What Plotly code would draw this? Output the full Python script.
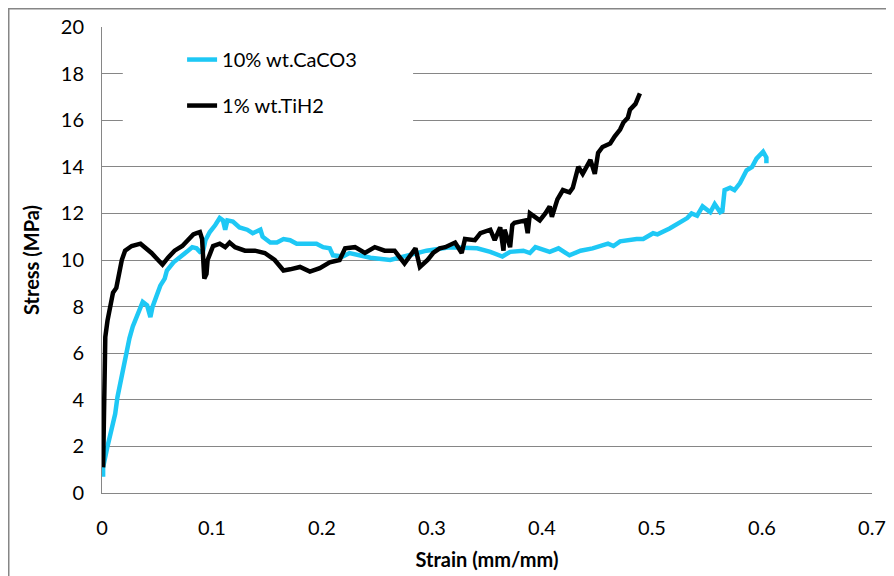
import plotly.graph_objects as go

# 1% wt.TiH2
tih2_strain = [0.001, 0.002, 0.003, 0.005, 0.007, 0.010, 0.013, 0.016, 0.018, 0.021, 0.027, 0.035,
               0.039, 0.045, 0.051, 0.055, 0.060, 0.066, 0.073, 0.078, 0.083, 0.086, 0.089, 0.091,
               0.092, 0.093, 0.095, 0.096, 0.101, 0.107, 0.112, 0.116, 0.121, 0.130, 0.139, 0.148,
               0.157, 0.165, 0.171, 0.180, 0.189, 0.198, 0.207, 0.216, 0.221, 0.230, 0.239, 0.248,
               0.257, 0.266, 0.275, 0.285, 0.289, 0.296, 0.301, 0.307, 0.312, 0.321, 0.327, 0.330,
               0.339, 0.344, 0.353, 0.357, 0.362, 0.365, 0.366, 0.371, 0.373, 0.375, 0.385, 0.387,
               0.389, 0.394, 0.398, 0.403, 0.407, 0.409, 0.414, 0.419, 0.425, 0.428, 0.433, 0.437,
               0.444, 0.448, 0.451, 0.455, 0.462, 0.466, 0.471, 0.474, 0.478, 0.480, 0.485, 0.489]
tih2_stress = [1.1, 5.0, 6.7, 7.4, 8.0, 8.6, 8.8, 9.5, 10.0, 10.4, 10.6, 10.7,
               10.55, 10.3, 10.0, 9.8, 10.1, 10.4, 10.6, 10.85, 11.1, 11.15, 11.2, 10.9,
               10.0, 9.2, 9.4, 10.0, 10.6, 10.7, 10.55, 10.75, 10.55, 10.4, 10.4, 10.3,
               10.0, 9.55, 9.6, 9.7, 9.5, 9.65, 9.9, 10.0, 10.5, 10.55, 10.3, 10.55,
               10.4, 10.4, 9.85, 10.5, 9.7, 10.0, 10.3, 10.5, 10.55, 10.75, 10.3, 10.9,
               10.85, 11.15, 11.3, 10.85, 11.4, 10.4, 11.3, 10.55, 11.5, 11.6, 11.7, 11.15,
               12.0, 11.85, 11.7, 12.0, 12.3, 11.85, 12.6, 13.0, 12.9, 13.1, 14.0, 13.7,
               14.3, 13.7, 14.6, 14.85, 15.0, 15.3, 15.6, 15.9, 16.1, 16.45, 16.7, 17.15]

# 10% wt.CaCO3
caco3_strain = [0.001, 0.001, 0.005, 0.009, 0.012, 0.014, 0.016, 0.019, 0.021, 0.024, 0.025, 0.028,
                0.033, 0.037, 0.041, 0.044, 0.046, 0.050, 0.053, 0.057, 0.059, 0.065, 0.071, 0.077,
                0.082, 0.086, 0.089, 0.092, 0.094, 0.098, 0.103, 0.107, 0.110, 0.112, 0.114, 0.119,
                0.125, 0.132, 0.137, 0.144, 0.146, 0.153, 0.159, 0.165, 0.171, 0.177, 0.186, 0.195,
                0.201, 0.207, 0.210, 0.219, 0.225, 0.244, 0.262, 0.280, 0.295, 0.316, 0.341, 0.353,
                0.364, 0.371, 0.383, 0.389, 0.394, 0.407, 0.415, 0.425, 0.435, 0.446, 0.460, 0.465,
                0.471, 0.486, 0.492, 0.501, 0.505, 0.516, 0.525, 0.532, 0.536, 0.541, 0.546, 0.553,
                0.557, 0.562, 0.564, 0.566, 0.571, 0.575, 0.580, 0.586, 0.591, 0.595, 0.601, 0.604,
                0.604]
caco3_stress = [0.7, 1.1, 2.0, 2.8, 3.4, 4.1, 4.55, 5.3, 5.85, 6.3, 6.65, 7.15,
                7.7, 8.2, 8.05, 7.55, 8.0, 8.6, 8.9, 9.2, 9.55, 9.9, 10.1, 10.35,
                10.55, 10.5, 10.35, 10.4, 10.85, 11.2, 11.5, 11.8, 11.7, 11.3, 11.7, 11.65,
                11.4, 11.3, 11.15, 11.3, 11.0, 10.75, 10.75, 10.9, 10.85, 10.7, 10.7, 10.7,
                10.55, 10.5, 10.2, 10.15, 10.3, 10.1, 10.0, 10.2, 10.4, 10.55, 10.5, 10.35,
                10.15, 10.35, 10.4, 10.3, 10.55, 10.35, 10.5, 10.2, 10.4, 10.5, 10.7, 10.6,
                10.8, 10.9, 10.9, 11.15, 11.1, 11.35, 11.6, 11.8, 12.0, 11.9, 12.3, 12.05,
                12.4, 12.05, 12.1, 13.0, 13.1, 13.0, 13.3, 13.85, 14.0, 14.35, 14.65, 14.4,
                14.15]

x_ticks = [0, 0.1, 0.2, 0.3, 0.4, 0.5, 0.6, 0.7]
x_tick_labels = ["0", "0.1", "0.2", "0.3", "0.4", "0.5", "0.6", "0.7"]
y_ticks = [0, 2, 4, 6, 8, 10, 12, 14, 16, 18, 20]

FONT = "Lato"
GRAY = "#868686"

fig = go.Figure()
fig.add_trace(go.Scatter(x=caco3_strain, y=caco3_stress, mode="lines", name="10% wt.CaCO3",
                         legendgroup="a", line=dict(color="#1EC8F5", width=4.5)))
fig.add_trace(go.Scatter(x=tih2_strain, y=tih2_stress, mode="lines", name="1% wt.TiH2",
                         legendgroup="b", line=dict(color="#000000", width=4.5)))

fig.update_layout(
    width=886, height=568,
    margin=dict(l=94, r=22, t=19, b=83),
    paper_bgcolor="white", plot_bgcolor="white",
    font=dict(family=FONT, size=20, color="#000000"),
    showlegend=True,
    legend=dict(x=0.104, y=0.972, xanchor="left", yanchor="top",
                bgcolor="rgba(255,255,255,1)", font=dict(family=FONT, size=20),
                tracegroupgap=17, traceorder="grouped"),
    xaxis=dict(range=[0, 0.7], tickvals=x_ticks, ticktext=x_tick_labels,
               showgrid=False, zeroline=False, showline=True, linecolor=GRAY, linewidth=1,
               ticks="", ticklabelstandoff=17, tickfont=dict(size=20), automargin=False,
               title=dict(text="<b>Strain (mm/mm)</b>", font=dict(size=20), standoff=14)),
    yaxis=dict(range=[0, 20], tickvals=y_ticks,
               showgrid=True, gridcolor=GRAY, gridwidth=1, zeroline=False,
               showline=True, linecolor=GRAY, linewidth=1,
               ticks="", ticklabelstandoff=13, tickfont=dict(size=20), automargin=False,
               title=dict(text="<b>Stress (MPa)</b>", font=dict(size=20), standoff=15)),
    shapes=[
        dict(type="rect", xref="paper", yref="paper",
             x0=-0.1211, x1=1.04, y0=-0.2, y1=1.0391,
             line=dict(color=GRAY, width=1.5), layer="below"),
        # legend box background (hides gridlines behind the legend, as in the original)
        dict(type="rect", xref="paper", yref="paper",
             x0=0.027, x1=0.404, y0=0.779, y1=0.983,
             fillcolor="white", line=dict(width=0), layer="above"),
    ],
)

fig.write_html("out.html")
